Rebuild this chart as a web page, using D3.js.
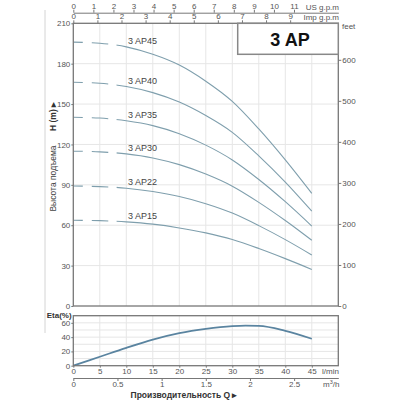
<!DOCTYPE html>
<html>
<head>
<meta charset="utf-8">
<script src="https://cdn.jsdelivr.net/npm/d3@7"></script>
<style>
  body { margin: 0; background: #fff; }
  text { font-family: "Liberation Sans", Arial, sans-serif; }
</style>
</head>
<body>
<div id="chart"></div>
<script>
// flow points (l/min) where the head curves were read
const flowLmin = [0, 5, 10, 15, 20, 25, 30, 35, 40, 45];

const models = ["3 AP45", "3 AP40", "3 AP35", "3 AP30", "3 AP22", "3 AP15"];
const headAP45 = [196, 195.2, 192.5, 187, 179, 167, 152, 131.5, 108.5, 83.6];
const headAP40 = [166.2, 165.5, 163, 158.5, 151.5, 141.5, 129, 111.5, 92, 70.4];
const headAP35 = [140.2, 139.6, 137.6, 134, 128, 119.5, 108.5, 94, 77.5, 59.4];
const headAP30 = [115, 114.5, 113, 110, 105, 98, 89, 77, 63.5, 48.8];
const headAP22 = [89.1, 88.7, 87.5, 85, 81.3, 76, 69, 59.7, 49.3, 37.9];
const headAP15 = [63.7, 63.4, 62.5, 60.8, 58, 54.3, 49.4, 42.7, 35.2, 27.2];
const heads = [headAP45, headAP40, headAP35, headAP30, headAP22, headAP15];

// efficiency curve
const etaFlow = [0, 5, 10, 15, 20, 25, 30, 32.5, 35, 40, 45];
const etaValues = [0, 12.5, 25, 36.5, 45.5, 51.5, 55.3, 56, 55.7, 48.8, 37.7];

// tick labels
const headTicks = [0, 30, 60, 90, 120, 150, 180, 210];
const feetTicks = [0, 100, 200, 300, 400, 500, 600];
const usTicks = [0, 1, 2, 3, 4, 5, 6, 7, 8, 9, 10, 11];
const impTicks = [0, 1, 2, 3, 4, 5, 6, 7, 8, 9];
const lminTicks = [0, 5, 10, 15, 20, 25, 30, 35, 40, 45];
const m3hTicks = [0, 0.5, 1, 1.5, 2, 2.5];
const etaTicks = [0, 20, 40, 60];
const etaGrid = [10, 20, 30, 40, 50, 60];

const dashEnd = 8.2; // curves are dashed below this flow

// layout
const plotLeft = 73.3, plotRight = 338.3,
      plotTop = 23.3, plotBottom = 306,
      etaTop = 315.7, etaBottom = 365.7;

const svg = d3.select("#chart")
  .append("svg")
    .attr("width", 400)
    .attr("height", 400);

const x = d3.scaleLinear().domain([0, 50]).range([plotLeft, plotRight]);
const y = d3.scaleLinear().domain([0, 210]).range([plotBottom, plotTop]);
const yFeet = d3.scaleLinear().domain([0, 210 * 3.28084]).range([plotBottom, plotTop]);
const xUS = d3.scaleLinear().domain([0, 50 / 3.78541]).range([plotLeft, plotRight]);
const xImp = d3.scaleLinear().domain([0, 50 / 4.54609]).range([plotLeft, plotRight]);
const xM3 = d3.scaleLinear().domain([0, 3]).range([plotLeft, plotRight]);
const yEta = d3.scaleLinear().domain([0, 70]).range([etaBottom, etaTop]);

function styleAxis(g, keepDomain) {
  if (!keepDomain) g.select(".domain").remove();
  g.select(".domain").attr("stroke", "#777");
  g.selectAll(".tick line").attr("stroke", "#777");
  g.selectAll("text").attr("fill", "#555").style("font-size", "8px")
    .style("font-family", '"Liberation Sans", Arial, sans-serif');
}

// thin line at the far left
svg.append("line")
  .attr("x1", 45).attr("x2", 45).attr("y1", 10).attr("y2", 333)
  .attr("stroke", "#d4d4d4");

// grid of main plot
svg.append("g").selectAll("line")
  .data(lminTicks.slice(1))
  .enter().append("line")
    .attr("x1", d => x(d)).attr("x2", d => x(d))
    .attr("y1", plotTop).attr("y2", plotBottom)
    .attr("stroke", "#e6e6e6");
svg.append("g").selectAll("line")
  .data(headTicks.slice(1, -1))
  .enter().append("line")
    .attr("x1", plotLeft).attr("x2", plotRight)
    .attr("y1", d => y(d)).attr("y2", d => y(d))
    .attr("stroke", "#e6e6e6");

// grid of eta plot
svg.append("g").selectAll("line")
  .data(lminTicks.slice(1))
  .enter().append("line")
    .attr("x1", d => x(d)).attr("x2", d => x(d))
    .attr("y1", etaTop).attr("y2", etaBottom)
    .attr("stroke", "#e6e6e6");
svg.append("g").selectAll("line")
  .data(etaGrid)
  .enter().append("line")
    .attr("x1", plotLeft).attr("x2", plotRight)
    .attr("y1", d => yEta(d)).attr("y2", d => yEta(d))
    .attr("stroke", "#e6e6e6");

// clips for dashed / solid parts
const defs = svg.append("defs");
defs.append("clipPath").attr("id", "clip-dash")
  .append("rect")
    .attr("x", plotLeft).attr("y", 0)
    .attr("width", x(dashEnd) - plotLeft).attr("height", 400);
defs.append("clipPath").attr("id", "clip-solid")
  .append("rect")
    .attr("x", x(dashEnd)).attr("y", 0)
    .attr("width", plotRight - x(dashEnd)).attr("height", 400);

const headLine = d3.line()
  .x((d, i) => x(flowLmin[i]))
  .y(d => y(d))
  .curve(d3.curveMonotoneX);

const curves = svg.append("g");
curves.selectAll(".dash")
  .data(heads)
  .enter().append("path")
    .attr("d", headLine)
    .attr("fill", "none")
    .attr("stroke", "#7f9fad")
    .attr("stroke-width", 1.1)
    .attr("stroke-dasharray", "9.5,9,16.5,8.5")
    .attr("clip-path", "url(#clip-dash)");
curves.selectAll(".solid")
  .data(heads)
  .enter().append("path")
    .attr("d", headLine)
    .attr("fill", "none")
    .attr("stroke", "#7f9fad")
    .attr("stroke-width", 1.1)
    .attr("clip-path", "url(#clip-solid)");

curves.selectAll(".model")
  .data(heads)
  .enter().append("text")
    .attr("x", x(10.3))
    .attr("y", d => y(d[2]) - 3)
    .attr("fill", "#444")
    .style("font-size", "9px")
    .text((d, i) => models[i]);

// eta curve
const etaLine = d3.line()
  .x((d, i) => x(etaFlow[i]))
  .y(d => yEta(d))
  .curve(d3.curveMonotoneX);
svg.append("path")
  .datum(etaValues)
  .attr("d", etaLine)
  .attr("fill", "none")
  .attr("stroke", "#5a84a0")
  .attr("stroke-width", 1.8);

// frames
svg.append("rect")
  .attr("x", plotLeft).attr("y", plotTop)
  .attr("width", plotRight - plotLeft).attr("height", plotBottom - plotTop)
  .attr("fill", "none").attr("stroke", "#777").attr("stroke-width", 1.3);
svg.append("rect")
  .attr("x", plotLeft).attr("y", etaTop)
  .attr("width", plotRight - plotLeft).attr("height", etaBottom - etaTop)
  .attr("fill", "none").attr("stroke", "#777").attr("stroke-width", 1.3);

// axes
svg.append("g")
  .attr("transform", `translate(${plotLeft},0)`)
  .call(d3.axisLeft(y).tickValues(headTicks).tickSize(2).tickPadding(1))
  .call(g => styleAxis(g));

svg.append("g")
  .attr("transform", `translate(${plotRight},0)`)
  .call(d3.axisRight(yFeet).tickValues(feetTicks).tickSize(3).tickPadding(1))
  .call(g => styleAxis(g));

svg.append("g")
  .attr("transform", "translate(0,12.7)")
  .call(d3.axisTop(xUS).tickValues(usTicks).tickSize(3).tickSizeOuter(0).tickPadding(1))
  .call(g => styleAxis(g, true));

svg.append("g")
  .attr("transform", `translate(0,${plotTop})`)
  .call(d3.axisTop(xImp).tickValues(impTicks).tickSize(3).tickPadding(1))
  .call(g => styleAxis(g));

svg.append("g")
  .attr("transform", `translate(${plotLeft},0)`)
  .call(d3.axisLeft(yEta).tickValues(etaTicks).tickSize(2).tickPadding(1))
  .call(g => styleAxis(g));

svg.append("g")
  .attr("transform", `translate(0,${etaBottom})`)
  .call(d3.axisBottom(x).tickValues(lminTicks).tickSize(2).tickPadding(1))
  .call(g => styleAxis(g));

svg.append("g")
  .attr("transform", "translate(0,378)")
  .call(d3.axisBottom(xM3).tickValues(m3hTicks).tickSize(3).tickSizeOuter(0)
    .tickPadding(0).tickFormat(d3.format("~g")))
  .call(g => styleAxis(g, true));

// unit labels
const unit = (tx, ty, t, anchor) => svg.append("text")
  .attr("x", tx).attr("y", ty)
  .attr("text-anchor", anchor || "start")
  .attr("fill", "#555")
  .style("font-size", "8px")
  .text(t);
unit(339, 9.5, "US g.p.m", "end");
unit(339, 19.5, "Imp g.p.m", "end");
unit(342, 28.5, "feet");
unit(322, 374.3, "l/min");
const m3 = svg.append("text")
  .attr("x", 323).attr("y", 387)
  .attr("fill", "#555")
  .style("font-size", "8px");
m3.append("tspan").text("m");
m3.append("tspan").attr("dy", -3).style("font-size", "5.5px").text("3");
m3.append("tspan").attr("dy", 3).text("/h");

// title box
svg.append("rect")
  .attr("x", 237.7).attr("y", plotTop)
  .attr("width", plotRight - 237.7).attr("height", 31)
  .attr("fill", "#fff").attr("stroke", "#888").attr("stroke-width", 1.5);
svg.append("text")
  .attr("x", 290).attr("y", 45.5)
  .attr("text-anchor", "middle")
  .attr("fill", "#111")
  .style("font-size", "18px").style("font-weight", "bold")
  .text("3 AP");

// axis titles
svg.append("text")
  .attr("transform", "translate(56,178.5)rotate(-90)")
  .attr("text-anchor", "middle")
  .attr("fill", "#444")
  .style("font-size", "8.5px")
  .text("Высота подъема");
svg.append("text")
  .attr("transform", "translate(56,131)rotate(-90)")
  .attr("fill", "#333")
  .style("font-size", "8.5px").style("font-weight", "bold")
  .text("H (m) ▸");
svg.append("text")
  .attr("x", 46.7).attr("y", 317.5)
  .attr("fill", "#333")
  .style("font-size", "8px").style("font-weight", "bold")
  .text("Eta(%)");
svg.append("text")
  .attr("x", 184).attr("y", 398)
  .attr("text-anchor", "middle")
  .attr("fill", "#333")
  .style("font-size", "8.5px").style("font-weight", "bold")
  .text("Производительность Q ▸");
</script>
</body>
</html>
